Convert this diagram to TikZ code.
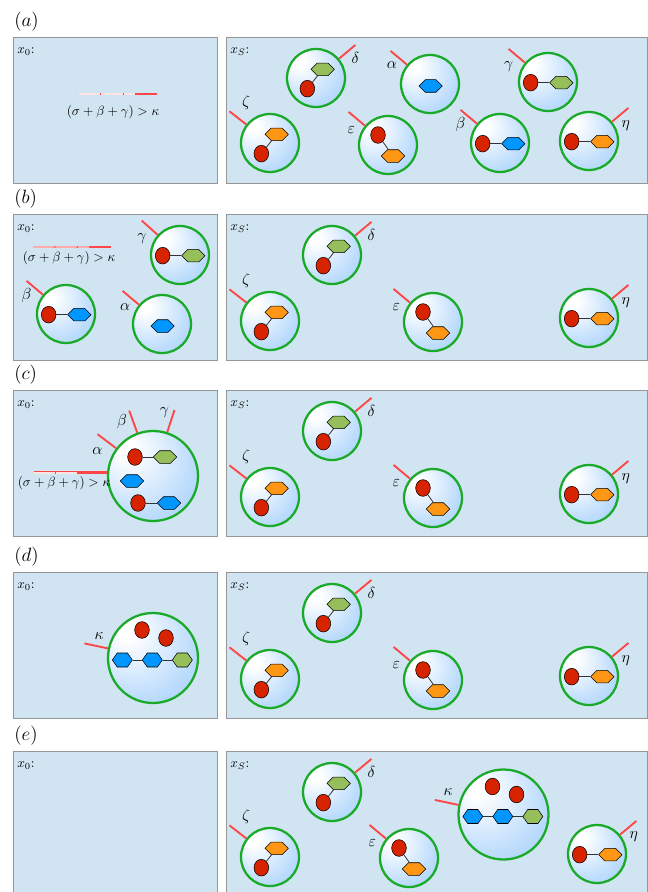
\documentclass[tikz,border=0pt]{standalone}
\usepackage{tikz}
\usetikzlibrary{positioning,shapes.geometric,shapes.symbols,calc}

\definecolor{panelbg}{RGB}{208,228,242}
\definecolor{panelline}{RGB}{150,150,150}
\definecolor{ringgreen}{RGB}{25,170,40}
\definecolor{cellblue}{RGB}{140,195,250}
\definecolor{recred}{RGB}{255,70,70}
\definecolor{ligred}{RGB}{215,35,0}
\definecolor{hexblue}{RGB}{0,150,255}
\definecolor{hexgreen}{RGB}{150,190,90}
\definecolor{hexorange}{RGB}{255,150,20}

% soft glow, brightest towards the upper left
\pgfdeclareradialshading{cellglow}{\pgfpoint{-16bp}{16bp}}{%
  color(0bp)=(white);
  color(5bp)=(white);
  color(30bp)=(cellblue!55);
  color(55bp)=(cellblue);
  color(75bp)=(cellblue)}

\tikzset{
  panel/.style={draw=panelline, line width=0.9pt, fill=panelbg, anchor=north west,
    inner sep=0pt, minimum height=109.5pt},
  rowtag/.style={anchor=west, inner sep=0pt, font=\Large},
  tag/.style={anchor=north west, inner sep=0pt},
  cell/.style={circle, draw=ringgreen, line width=1.7pt, shade, shading=cellglow,
    minimum size=43.5pt, inner sep=0pt},
  bigcell/.style={cell, minimum size=67.5pt},
  ligand/.style={ellipse, draw=black, line width=0.4pt, fill=ligred,
    minimum width=11pt, minimum height=12.5pt, inner sep=0pt},
  hexa/.style={signal, signal to=east and west, signal pointer angle=90,
    draw=black, line width=0.4pt, minimum width=17.5pt, minimum height=9.4pt, inner sep=0pt},
  bighex/.style={hexa, signal pointer angle=110, minimum width=15pt, minimum height=10.5pt},
  bond/.style={draw=black!80, line width=0.6pt},
  receptor/.style={draw=recred, line width=1.4pt},
  bar/.style={draw=recred, line width=2.2pt},
  barlight/.style={draw=white!85!recred, line width=1.1pt, dash pattern=on 16pt off 0.8pt},
  greek/.style={anchor=base, inner sep=0pt, font=\large},
  formula/.style={inner sep=0pt}
}

% receptor stub on a cell, with its name
\newcommand{\recep}[5][16pt]{%
  \draw[receptor] (#2.#3) -- ++(#3:#1) coordinate (#2-tip);
  \node[greek] (#2-name) at ([shift={#5}]#2-tip) {$#4$};}

% cell contents
\newcommand{\pairup}[2]{%
  \node[hexa, fill=#2] (#1-h) at ([shift={(5pt,6.5pt)}]#1.center) {};
  \node[ligand] (#1-l) at ([shift={(-6.5pt,-8pt)}]#1.center) {};
  \draw[bond] (#1-l) -- (#1-h);}
\newcommand{\pairdown}[2]{%
  \node[ligand] (#1-l) at ([shift={(-7.5pt,7.5pt)}]#1.center) {};
  \node[hexa, fill=#2] (#1-h) at ([shift={(3.75pt,-8.25pt)}]#1.center) {};
  \draw[bond] (#1-l) -- (#1-h);}
\newcommand{\pairflat}[2]{%
  \node[ligand] (#1-l) at ([shift={(-13pt,-0.5pt)}]#1.center) {};
  \node[hexa, fill=#2] (#1-h) at ([shift={(10pt,-0.5pt)}]#1.center) {};
  \draw[bond] (#1-l) -- (#1-h);}
\newcommand{\lonehex}[2]{%
  \node[hexa, fill=#2] (#1-h) at ([shift={(0.5pt,-1.5pt)}]#1.center) {};}
\newcommand{\chain}[1]{%
  \node[ligand] (#1-l1) at ([shift={(-8.25pt,21pt)}]#1.center) {};
  \node[ligand] (#1-l2) at ([shift={(9.75pt,15pt)}]#1.center) {};
  \node[bighex, fill=hexblue] (#1-h1) at ([shift={(-23pt,-1.5pt)}]#1.center) {};
  \node[bighex, fill=hexblue] (#1-h2) at ([shift={(-0.5pt,-1.5pt)}]#1.center) {};
  \node[bighex, fill=hexgreen] (#1-h3) at ([shift={(22pt,-1.5pt)}]#1.center) {};
  \draw[bond] (#1-h1) -- (#1-h2) (#1-h2) -- (#1-h3);}

\begin{document}
\begin{tikzpicture}[x=0.75pt,y=-0.75pt]
\useasboundingbox (0,0) rectangle (648,892);

% frames, row letters, state names
\foreach \row/\ytop in {a/37,b/214,c/390,d/572,e/751}{
  \node[panel, minimum width=153pt] (\row-left) at (13,\ytop) {};
  \node[panel, minimum width=315.75pt] (\row-right) at (226,\ytop) {};
  \node[rowtag] (\row-tag) at (14,\ytop-15) {$(\row)$};
  \node[tag] (\row-x0) at ([shift={(3pt,-8pt)}]\row-left.north west) {$x_0$:};
  \node[tag] (\row-xs) at ([shift={(3pt,-8pt)}]\row-right.north west) {$x_S$:};
}

% (a) everything still apart
\coordinate (a-bs) at (79,94);
\coordinate (a-be) at (157,94);
\draw[bar] (a-bs) -- (a-be);
\draw[barlight] (a-bs) -- ($(a-bs)!0.72!(a-be)$);
\node[formula] (a-rule) at (113,112) {$(\sigma+\beta+\gamma)>\kappa$};

\node[cell] (a-delta) at (316,78) {};
\pairup{a-delta}{hexgreen}
\recep{a-delta}{40}{\delta}{(0pt,-14pt)}
\node[cell] (a-alpha) at (430,84) {};
\lonehex{a-alpha}{hexblue}
\recep{a-alpha}{140}{\alpha}{(1pt,-13pt)}
\node[cell] (a-gamma) at (548,82) {};
\pairflat{a-gamma}{hexgreen}
\recep{a-gamma}{140}{\gamma}{(0pt,-15pt)}
\node[cell] (a-zeta) at (270,143) {};
\pairup{a-zeta}{hexorange}
\recep{a-zeta}{142}{\zeta}{(12.5pt,3.5pt)}
\node[cell] (a-eps) at (388,145) {};
\pairdown{a-eps}{hexorange}
\recep{a-eps}{140}{\varepsilon}{(2pt,-16pt)}
\node[cell] (a-beta) at (500,143) {};
\pairflat{a-beta}{hexblue}
\recep{a-beta}{140}{\beta}{(0pt,-14pt)}
\node[cell] (a-eta) at (589,141) {};
\pairflat{a-eta}{hexorange}
\recep{a-eta}{40}{\eta}{(-2pt,-15pt)}

% (b) alpha, beta, gamma moved into x0
\coordinate (b-bs) at (33,247);
\coordinate (b-be) at (111,247);
\draw[bar] (b-bs) -- (b-be);
\draw[barlight] (b-bs) -- ($(b-bs)!0.72!(b-be)$);
\node[formula] (b-rule) at (69,258) {$(\sigma+\beta+\gamma)>\kappa$};

\node[cell] (b-gamma) at (180,255) {};
\pairflat{b-gamma}{hexgreen}
\recep{b-gamma}{138}{\gamma}{(0pt,-15pt)}
\node[cell] (b-beta) at (66,314) {};
\pairflat{b-beta}{hexblue}
\recep{b-beta}{140}{\beta}{(0pt,-14pt)}
\node[cell] (b-alpha) at (162,324) {};
\lonehex{b-alpha}{hexblue}
\recep{b-alpha}{140}{\alpha}{(2pt,-15pt)}

% the four that stay in xS
\foreach \row/\ytop in {b/214,c/390,d/572}{
  \node[cell] (\row-delta) at (332,\ytop+41) {};
  \pairup{\row-delta}{hexgreen}
  \recep{\row-delta}{40}{\delta}{(0pt,-14pt)}
  \node[cell] (\row-zeta) at (270,\ytop+107) {};
  \pairup{\row-zeta}{hexorange}
  \recep{\row-zeta}{142}{\zeta}{(12.5pt,3.5pt)}
  \node[cell] (\row-eps) at (433,\ytop+108) {};
  \pairdown{\row-eps}{hexorange}
  \recep{\row-eps}{140}{\varepsilon}{(2pt,-16pt)}
  \node[cell] (\row-eta) at (589,\ytop+104) {};
  \pairflat{\row-eta}{hexorange}
  \recep{\row-eta}{40}{\eta}{(-2pt,-15pt)}
}

% (c) merged into one cell
\node[bigcell] (c-big) at (153,476) {};
\node[ligand] (c-l1) at ([shift={(-13.5pt,14.25pt)}]c-big.center) {};
\node[hexa, fill=hexgreen] (c-h1) at ([shift={(9pt,14.25pt)}]c-big.center) {};
\node[hexa, fill=hexblue] (c-h2) at ([shift={(-15.75pt,-3.75pt)}]c-big.center) {};
\node[ligand] (c-l2) at ([shift={(-11.25pt,-20.25pt)}]c-big.center) {};
\node[hexa, fill=hexblue] (c-h3) at ([shift={(12pt,-20.25pt)}]c-big.center) {};
\draw[bond] (c-l1) -- (c-h1);
\draw[bond] (c-l2) -- (c-h3);
\draw[receptor] (c-big.143) -- ++(143:17.5pt) coordinate (c-atip);
\draw[receptor] (c-big.110) -- ++(110:17.5pt) coordinate (c-btip);
\draw[receptor] (c-big.72) -- ++(72:17.5pt) coordinate (c-gtip);
\node[greek] (c-alpha) at ([shift={(0pt,-15pt)}]c-atip) {$\alpha$};
\node[greek] (c-beta) at ([shift={(-5.5pt,-11pt)}]c-btip) {$\beta$};
\node[greek] (c-gamma) at ([shift={(-7.5pt,-3.5pt)}]c-gtip) {$\gamma$};
\draw[bar] (c-big.176) -- ++(-55pt,0) coordinate (c-bs);
\draw[barlight] (c-bs) -- ++(33pt,0);
\node[formula] (c-rule) at (64,483) {$(\sigma+\beta+\gamma)>\kappa$};

% (d) the complex kappa
\node[bigcell] (d-big) at (153,658) {};
\chain{d-big}
\recep[18pt]{d-big}{168}{\kappa}{(11pt,3pt)}

% (e) kappa released into xS
\node[cell] (e-delta) at (332,792) {};
\pairup{e-delta}{hexgreen}
\recep{e-delta}{40}{\delta}{(0pt,-14pt)}
\node[cell] (e-zeta) at (270,857) {};
\pairup{e-zeta}{hexorange}
\recep{e-zeta}{142}{\zeta}{(12.5pt,3.5pt)}
\node[cell] (e-eps) at (409,858) {};
\pairdown{e-eps}{hexorange}
\recep{e-eps}{140}{\varepsilon}{(2pt,-16pt)}
\node[cell] (e-eta) at (597,854) {};
\pairflat{e-eta}{hexorange}
\recep{e-eta}{40}{\eta}{(-2pt,-13pt)}
\node[bigcell] (e-big) at (503.5,814.5) {};
\chain{e-big}
\recep[18pt]{e-big}{168}{\kappa}{(10pt,3.5pt)}

\end{tikzpicture}
\end{document}
